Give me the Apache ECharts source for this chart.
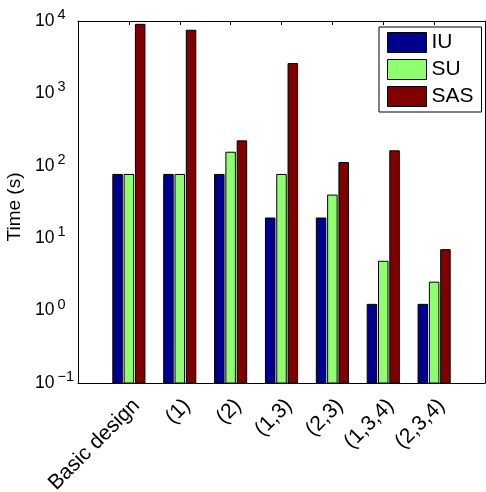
<!DOCTYPE html>
<html>
<head>
<meta charset="utf-8">
<script src="https://cdn.jsdelivr.net/npm/echarts@6/dist/echarts.min.js"></script>
<style>
html,body{margin:0;padding:0;background:#fff;}
#chart{width:486px;height:492px;}
</style>
</head>
<body>
<div id="chart"></div>
<script>
var categories = ['Basic design', '(1)', '(2)', '(1,3)', '(2,3)', '(1,3,4)', '(2,3,4)'];
var seriesNames = ['IU', 'SU', 'SAS'];
var iuValues  = [76, 76, 76, 19, 19, 1.22, 1.22];
var suValues  = [76, 76, 154, 76, 39.4, 4.8, 2.47];
var sasValues = [9000, 7450, 221, 2580, 111, 161, 6.95];
var majorTicks = [0.1, 1, 10, 100, 1000, 10000];
var minorMultipliers = [2, 3, 4, 5, 6, 7, 8, 9];
var colors = ['#00008f', '#8fff70', '#800000'];

var minorTicks = [];
majorTicks.slice(0, -1).forEach(function (d) {
  minorMultipliers.forEach(function (m) { minorTicks.push(+(d * m).toPrecision(6)); });
});

var SANS = '"Liberation Sans", Arial, sans-serif';

// padded categories: MATLAB x-limits are [0, n+1]
var paddedCats = [''].concat(categories, ['']);

var allValues = [iuValues, suValues, sasValues];
var barW = 9.5, step = 11.3;

function makeSeries(k) {
  var data = allValues[k].map(function (v, i) { return [i + 1, v]; });
  return {
    type: 'custom',
    name: seriesNames[k],
    xAxisIndex: 0,
    yAxisIndex: 0,
    itemStyle: { color: colors[k], borderColor: '#000', borderWidth: 1 },
    data: data,
    renderItem: function (params, api) {
      var x = api.value(0), v = api.value(1);
      var top = api.coord([x, v]);
      var base = api.coord([x, majorTicks[0]]);
      var cx = top[0] + (k - 1) * step;
      return {
        type: 'rect',
        shape: { x: cx - barW / 2, y: top[1], width: barW, height: base[1] - top[1] },
        style: { fill: colors[k], stroke: '#000', lineWidth: 1 }
      };
    }
  };
}

function fmtLabel(v) {
  var e = Math.round(Math.log10(v));
  return '{b|10}{s|' + (e < 0 ? '\u2212' + (-e) : e) + '}';
}

var lineStyle = { color: '#000', width: 1 };
var yCommon = { type: 'log', logBase: 10, min: majorTicks[0], max: majorTicks[majorTicks.length - 1], splitLine: { show: false } };

var option = {
  animation: false,
  backgroundColor: '#fff',
  grid: { left: 78, top: 21, right: 1, bottom: 109, containLabel: false, outerBoundsMode: 'none' },
  legend: {
    orient: 'vertical',
    left: 379, top: 27,
    padding: [5, 8, 5, 8],
    itemGap: 6,
    itemWidth: 39, itemHeight: 20,
    icon: 'rect',
    borderColor: '#000', borderWidth: 1,
    backgroundColor: '#fff',
    itemStyle: { borderColor: '#000', borderWidth: 1 },
    textStyle: { fontFamily: SANS, fontSize: 21, color: '#000', lineHeight: 20 },
    data: seriesNames
  },
  xAxis: [{
    type: 'category', position: 'bottom', data: paddedCats, boundaryGap: false,
    axisLine: { lineStyle: lineStyle },
    axisTick: { inside: true, length: 4, lineStyle: lineStyle, interval: 0 },
    axisLabel: { rotate: 45, interval: 0, margin: 12, verticalAlign: 'top', color: '#000', fontFamily: SANS, fontSize: 21 },
    splitLine: { show: false }
  }, {
    type: 'category', position: 'top', data: paddedCats, boundaryGap: false,
    axisLine: { lineStyle: lineStyle },
    axisTick: { inside: true, length: 4, lineStyle: lineStyle, interval: 0 },
    axisLabel: { show: false },
    splitLine: { show: false }
  }],
  yAxis: [
    Object.assign({}, yCommon, {
      position: 'left',
      name: 'Time (s)', nameLocation: 'middle', nameGap: 47,
      nameTextStyle: { fontFamily: SANS, fontSize: 19, color: '#000', padding: [0, 10, 0, 0] },
      axisLine: { show: true, lineStyle: lineStyle },
      axisTick: { inside: true, length: 6, lineStyle: lineStyle, customValues: majorTicks },
      axisLabel: {
        customValues: majorTicks, align: 'left', margin: 43, color: '#000',
        formatter: fmtLabel,
        rich: {
          b: { fontFamily: SANS, fontSize: 17.5, color: '#000' },
          s: { fontFamily: SANS, fontSize: 14.5, color: '#000', padding: [0, 0, 12, 3] }
        }
      }
    }),
    Object.assign({}, yCommon, {
      position: 'left',
      axisLine: { show: false },
      axisTick: { inside: true, length: 3, lineStyle: lineStyle, customValues: minorTicks },
      axisLabel: { show: false }
    }),
    Object.assign({}, yCommon, {
      position: 'right',
      axisLine: { show: true, lineStyle: lineStyle },
      axisTick: { inside: true, length: 6, lineStyle: lineStyle, customValues: majorTicks },
      axisLabel: { show: false }
    }),
    Object.assign({}, yCommon, {
      position: 'right',
      axisLine: { show: false },
      axisTick: { inside: true, length: 3, lineStyle: lineStyle, customValues: minorTicks },
      axisLabel: { show: false }
    })
  ],
  series: [makeSeries(0), makeSeries(1), makeSeries(2)]
};

var chart = echarts.init(document.getElementById('chart'), null, { renderer: 'canvas' });
chart.setOption(option);
</script>
</body>
</html>
